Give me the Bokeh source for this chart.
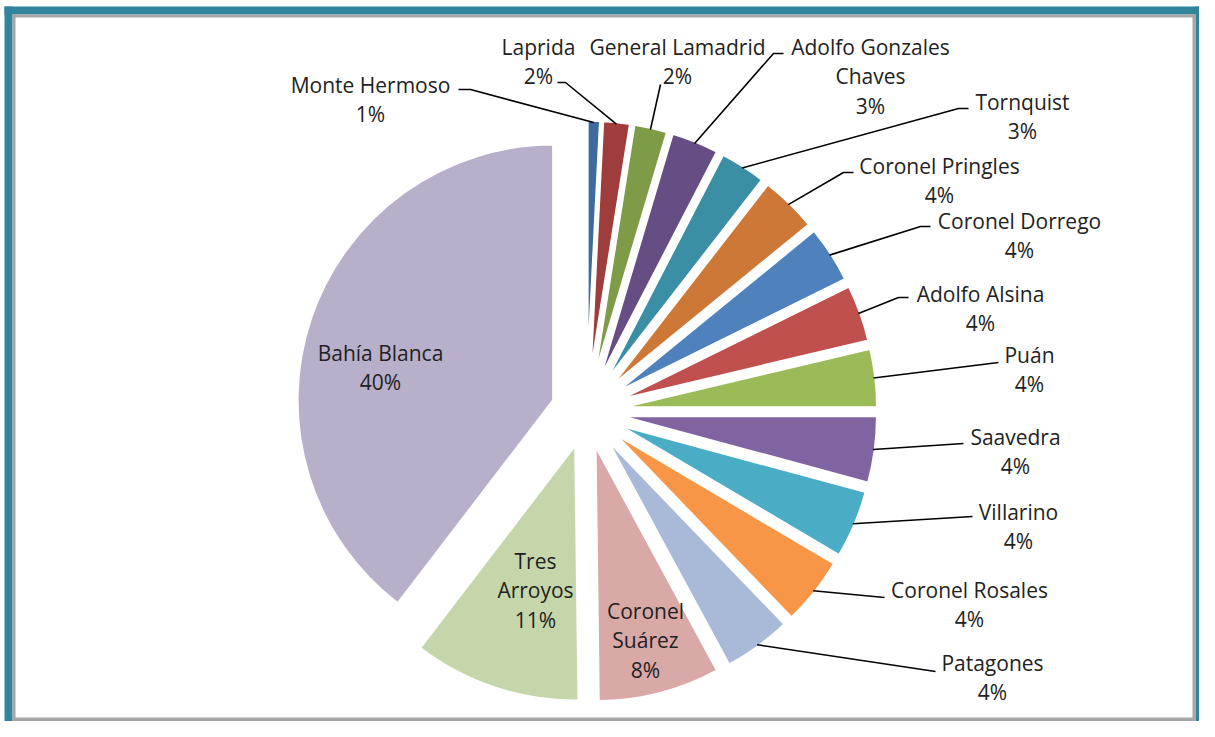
import numpy as np
from bokeh.plotting import figure
from bokeh.models import Range1d, ColumnDataSource
from bokeh.core.properties import value
from bokeh.embed import file_html
from bokeh.resources import INLINE

# ---------------- data ----------------
districts = ["Monte Hermoso", "Laprida", "General Lamadrid", "Adolfo Gonzales Chaves",
             "Tornquist", "Coronel Pringles", "Coronel Dorrego", "Adolfo Alsina", "Puán",
             "Saavedra", "Villarino", "Coronel Rosales", "Patagones", "Coronel Suárez",
             "Tres Arroyos", "Bahía Blanca"]
shares = [0.8, 1.7, 2.1, 3.0, 2.9, 3.6, 3.6, 3.6, 3.7,
          4.2, 4.3, 4.3, 4.3, 7.7, 10.6, 39.6]
pct_labels = ["1%", "2%", "2%", "3%", "3%", "4%", "4%", "4%", "4%",
              "4%", "4%", "4%", "4%", "8%", "11%", "40%"]
colors = ["#3D6A9F", "#9E3D3B", "#7E9B48", "#664D84", "#3A8FA5", "#CD7836",
          "#4F81BD", "#C0504D", "#9BBB59", "#8064A2", "#4BACC6", "#F79646",
          "#A9B9D8", "#D9A9A8", "#C5D6AB", "#B8AFCB"]

# ---------------- layout (pixel coordinates, y downward) ----------------
name_lines = {"Adolfo Gonzales Chaves": ["Adolfo Gonzales", "Chaves"],
              "Tres Arroyos": ["Tres", "Arroyos"],
              "Coronel Suárez": ["Coronel", "Suárez"]}
label_pos = [(370, 84), (538, 46), (677, 46), (870, 46), (1022, 101), (939, 165),
             (1019, 220), (980, 293), (1029, 354), (1015, 436), (1018, 511),
             (969, 589), (992, 662), (645, 610), (535, 560), (380, 352)]
leader_start = [[(458, 89), (470, 89)], [(557, 82), (565, 82)], [(660, 84)],
                [(783, 53), (773, 53)], [(968, 108), (958, 108)], [(853, 172), (843, 172)],
                [(930, 226), (920, 226)], [(908, 297), (898, 297)], [(998, 362)],
                [(963, 443)], [(972, 516)], [(884, 597)], [(935, 671)],
                None, None, None]
CX, CY, R, EXPL = 586, 411, 256, 35
LINE_H = 29.5
FONT = value("Open Sans")
TXT = "#222222"
W, H = 1199, 721

frac = np.array(shares) / np.sum(shares)
cum = np.concatenate([[0], np.cumsum(frac)])
phi_s = 2 * np.pi * cum[:-1]          # clockwise from 12 o'clock
phi_e = 2 * np.pi * cum[1:]
phi_m = (phi_s + phi_e) / 2
px = CX + EXPL * np.sin(phi_m)
py = CY - EXPL * np.cos(phi_m)

p = figure(width=W, height=H, x_range=Range1d(0, W), y_range=Range1d(-H, 0),
           min_border=0, output_backend="svg", toolbar_location=None,
           x_axis_type=None, y_axis_type=None)
p.border_fill_color = "white"
p.background_fill_color = "white"
p.outline_line_color = None
p.grid.visible = False

# frame: teal band + grey inner line
TEAL, GREY = "#31849B", "#A6A6A6"
p.quad(left=[4, 4, 1195], right=[12, W, W], top=[-6, -6, -6], bottom=[-H, -14, -H],
       fill_color=TEAL, line_color=None)
p.quad(left=[12, 12, 1192, 12], right=[15, 1195, 1195, 1195],
       top=[-14, -14, -14, -717], bottom=[-H, -17, -H, -H],
       fill_color=GREY, line_color=None)

src = ColumnDataSource(dict(x=px, y=-py, start=np.pi / 2 - phi_s, end=np.pi / 2 - phi_e,
                            color=colors, name=districts))
p.wedge(x="x", y="y", radius=R, start_angle="start", end_angle="end", direction="clock",
        fill_color="color", line_color="white", line_width=2.5, source=src)

# leader lines
xs, ys = [], []
for i, st in enumerate(leader_start):
    if st is None:
        continue
    ax = px[i] + (R - 2) * np.sin(phi_m[i])
    ay = py[i] - (R - 2) * np.cos(phi_m[i])
    pts = st + [(ax, ay)]
    xs.append([q[0] for q in pts])
    ys.append([-q[1] for q in pts])
p.multi_line(xs, ys, line_color="black", line_width=1.6)

# labels
tx, ty, tt = [], [], []
for i, name in enumerate(districts):
    lines = name_lines.get(name, [name]) + [pct_labels[i]]
    lx, ly = label_pos[i]
    for k, t in enumerate(lines):
        tx.append(lx)
        ty.append(-(ly + k * LINE_H))
        tt.append(t)
p.text(x=tx, y=ty, text=tt, text_align="center", text_baseline="middle",
       text_font=FONT, text_font_size="21px", text_color=TXT)

open("out.html", "w").write(file_html(p, INLINE))
